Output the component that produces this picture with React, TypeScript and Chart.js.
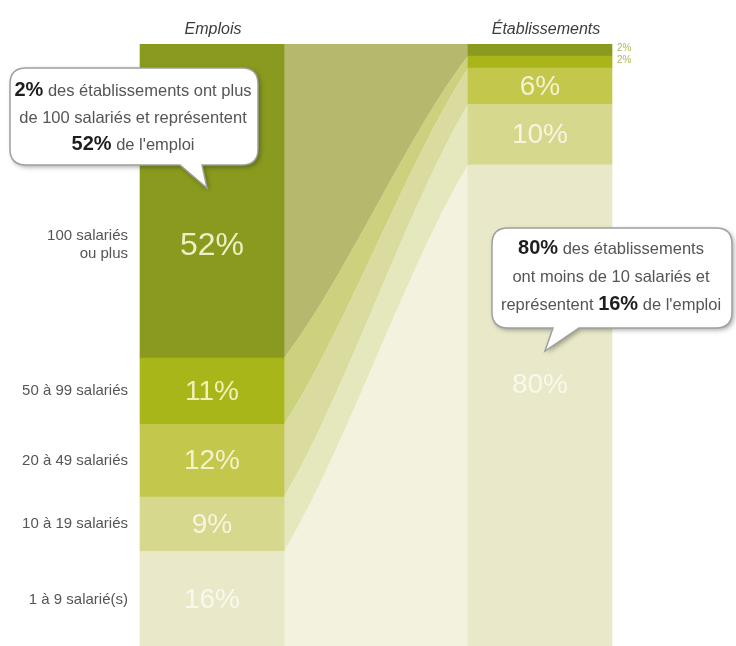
import React, { useEffect, useRef } from "react";
import { Chart, registerables } from "chart.js";

Chart.register(...registerables);

// ---- data ----
const COLUMNS = ["Emplois", "Établissements"];
const CATEGORIES = [
  ["1 à 9 salarié(s)"],
  ["10 à 19 salariés"],
  ["20 à 49 salariés"],
  ["50 à 99 salariés"],
  ["100 salariés", "ou plus"],
];
const EMPLOIS = [16, 9, 12, 11, 52];
const ETABLISSEMENTS = [80, 10, 6, 2, 2];

const CALLOUT_TOP = [
  [{ t: "2%", b: true }, { t: " des établissements ont plus" }],
  [{ t: "de 100 salariés et représentent" }],
  [{ t: "52%", b: true }, { t: " de l'emploi" }],
];
const CALLOUT_BOTTOM = [
  [{ t: "80%", b: true }, { t: " des établissements" }],
  [{ t: "ont moins de 10 salariés et" }],
  [{ t: "représentent " }, { t: "16%", b: true }, { t: " de l'emploi" }],
];

// ---- styles ----
const BAR_COLORS = ["#e9e8c8", "#d6d88e", "#c3c84c", "#a8b619", "#8a9a1e"];
const FLOW_COLORS = ["#f3f2de", "#e5e7bc", "#d9dc9e", "#cbd17c", "#b6b86e"];
const PCT_COLORS = ["#f9f8ec", "#f7f5df", "#f4f2cc", "#f2f0b8", "#eeefc2"];
const FONT = "'Liberation Sans', Arial, sans-serif";

type Part = { t: string; b?: boolean };

function drawRich(ctx: CanvasRenderingContext2D, parts: Part[], cx: number, y: number) {
  const normal = `16.5px ${FONT}`;
  const bold = `bold 20px ${FONT}`;
  let total = 0;
  const widths = parts.map((p) => {
    ctx.font = p.b ? bold : normal;
    const w = ctx.measureText(p.t).width;
    total += w;
    return w;
  });
  let x = cx - total / 2;
  ctx.textAlign = "left";
  ctx.textBaseline = "alphabetic";
  parts.forEach((p, i) => {
    ctx.font = p.b ? bold : normal;
    ctx.fillStyle = p.b ? "#1e1e1e" : "#555555";
    ctx.fillText(p.t, x, y);
    x += widths[i];
  });
}

function calloutPath(
  ctx: CanvasRenderingContext2D,
  x: number, y: number, w: number, h: number, r: number,
  t1: number, t2: number, tipX: number, tipY: number
) {
  ctx.beginPath();
  ctx.moveTo(x + r, y);
  ctx.lineTo(x + w - r, y);
  ctx.quadraticCurveTo(x + w, y, x + w, y + r);
  ctx.lineTo(x + w, y + h - r);
  ctx.quadraticCurveTo(x + w, y + h, x + w - r, y + h);
  ctx.lineTo(t2, y + h);
  ctx.lineTo(tipX, tipY);
  ctx.lineTo(t1, y + h);
  ctx.lineTo(x + r, y + h);
  ctx.quadraticCurveTo(x, y + h, x, y + h - r);
  ctx.lineTo(x, y + r);
  ctx.quadraticCurveTo(x, y, x + r, y);
  ctx.closePath();
}

function drawCallout(
  ctx: CanvasRenderingContext2D,
  box: { x: number; y: number; w: number; h: number; t1: number; t2: number; tx: number; ty: number },
  lines: Part[][], cx: number, firstBaseline: number, gap: number
) {
  ctx.save();
  calloutPath(ctx, box.x, box.y, box.w, box.h, 16, box.t1, box.t2, box.tx, box.ty);
  ctx.shadowColor = "rgba(0,0,0,0.35)";
  ctx.shadowBlur = 5;
  ctx.shadowOffsetX = 2;
  ctx.shadowOffsetY = 2;
  ctx.fillStyle = "#ffffff";
  ctx.fill();
  ctx.shadowColor = "transparent";
  ctx.lineWidth = 1.5;
  ctx.strokeStyle = "#a0a0a0";
  ctx.stroke();
  lines.forEach((ln, i) => drawRich(ctx, ln, cx, firstBaseline + i * gap));
  ctx.restore();
}

function edge(ctx: CanvasRenderingContext2D, x0: number, y0: number, x1: number, y1: number, first: boolean) {
  const dx = x1 - x0;
  const dy = y1 - y0;
  if (first) ctx.moveTo(x0, y0);
  else ctx.lineTo(x0, y0);
  ctx.bezierCurveTo(x0 + 0.33 * dx, y0 + 0.26 * dy, x0 + 0.67 * dx, y0 + 0.74 * dy, x1, y1);
}

const flowPlugin = {
  id: "flows",
  beforeDatasetsDraw(chart: any) {
    const ctx: CanvasRenderingContext2D = chart.ctx;
    const n = chart.data.datasets.length;
    for (let i = 0; i < n; i++) {
      const meta = chart.getDatasetMeta(i);
      const L = meta.data[0];
      const R = meta.data[1];
      const xL = L.x + L.width / 2;
      const xR = R.x - R.width / 2;
      ctx.save();
      ctx.beginPath();
      edge(ctx, xL, L.y, xR, R.y, true);
      edge(ctx, xR, R.base, xL, L.base, false);
      ctx.closePath();
      ctx.fillStyle = FLOW_COLORS[i];
      ctx.fill();
      ctx.restore();
    }
  },
  afterDatasetsDraw(chart: any) {
    const ctx: CanvasRenderingContext2D = chart.ctx;
    const yScale = chart.scales.y;
    const n = chart.data.datasets.length;
    const m0 = chart.getDatasetMeta(0);
    const leftX = m0.data[0].x;
    const rightX = m0.data[1].x;
    const leftEdge = leftX - m0.data[0].width / 2;
    const rightEdge = rightX + m0.data[1].width / 2;

    ctx.save();
    // headers
    ctx.font = `italic 16px ${FONT}`;
    ctx.fillStyle = "#3c3c3c";
    ctx.textAlign = "center";
    ctx.textBaseline = "alphabetic";
    ctx.fillText(COLUMNS[0], leftX + 1, chart.chartArea.top - 10);
    ctx.fillText(COLUMNS[1], rightX + 6, chart.chartArea.top - 10);

    let baseL = 0;
    let baseR = 0;
    for (let i = 0; i < n; i++) {
      const vL = EMPLOIS[i];
      const vR = ETABLISSEMENTS[i];
      // left labels
      const fracL = i === n - 1 ? 0.36 : 0.5;
      const yL = yScale.getPixelForValue(baseL + vL * fracL);
      ctx.textBaseline = "middle";
      ctx.textAlign = "center";
      ctx.fillStyle = PCT_COLORS[i];
      ctx.font = `${i === n - 1 ? 32 : 28}px ${FONT}`;
      ctx.fillText(`${vL}%`, leftX, yL + 1);

      // category labels
      ctx.textAlign = "right";
      ctx.fillStyle = "#555555";
      ctx.font = `15px ${FONT}`;
      const lines = CATEGORIES[i];
      lines.forEach((s, j) => {
        ctx.fillText(s, leftEdge - 12, yL + (j - (lines.length - 1) / 2) * 18);
      });

      // right labels
      const fracR = i === 0 ? 0.545 : 0.5;
      const yR = yScale.getPixelForValue(baseR + vR * fracR);
      if (vR >= 5) {
        ctx.textAlign = "center";
        ctx.fillStyle = PCT_COLORS[i];
        ctx.font = `28px ${FONT}`;
        ctx.fillText(`${vR}%`, rightX, yR + 1);
      } else {
        ctx.textAlign = "left";
        ctx.fillStyle = "#b3b85a";
        ctx.font = `10px ${FONT}`;
        ctx.fillText(`${vR}%`, rightEdge + 5, yR - 2);
      }
      baseL += vL;
      baseR += vR;
    }

    // callouts
    drawCallout(ctx, { x: 10, y: 68, w: 248, h: 97, t1: 180, t2: 202, tx: 207, ty: 188 },
      CALLOUT_TOP, 133, 96, 27);
    drawCallout(ctx, { x: 492, y: 228, w: 240, h: 100, t1: 553, t2: 579, tx: 545, ty: 351 },
      CALLOUT_BOTTOM, 611, 254, 28);
    ctx.restore();
  },
};

export default function App() {
  const ref = useRef<HTMLCanvasElement | null>(null);
  useEffect(() => {
    if (!ref.current) return;
    const chart = new Chart(ref.current, {
      type: "bar",
      data: {
        labels: COLUMNS,
        datasets: CATEGORIES.map((c, i) => ({
          label: c.join(" "),
          data: [EMPLOIS[i], ETABLISSEMENTS[i]],
          backgroundColor: BAR_COLORS[i],
          borderWidth: 0,
          barThickness: 144,
        })),
      },
      options: {
        responsive: false,
        maintainAspectRatio: false,
        animation: false,
        devicePixelRatio: 1,
        layout: { padding: { left: 48, right: 32, top: 44, bottom: 12 } },
        plugins: { legend: { display: false }, tooltip: { enabled: false } },
        scales: {
          x: { display: false, stacked: true },
          y: { display: false, stacked: true, min: 0, max: 100 },
        },
      },
      plugins: [flowPlugin],
    });
    return () => chart.destroy();
  }, []);
  return (
    <div style={{ position: "absolute", left: 0, top: 0, width: 736, height: 646, overflow: "hidden", background: "#ffffff" }}>
      <canvas ref={ref} width={736} height={660} style={{ width: 736, height: 660, display: "block" }} />
    </div>
  );
}
